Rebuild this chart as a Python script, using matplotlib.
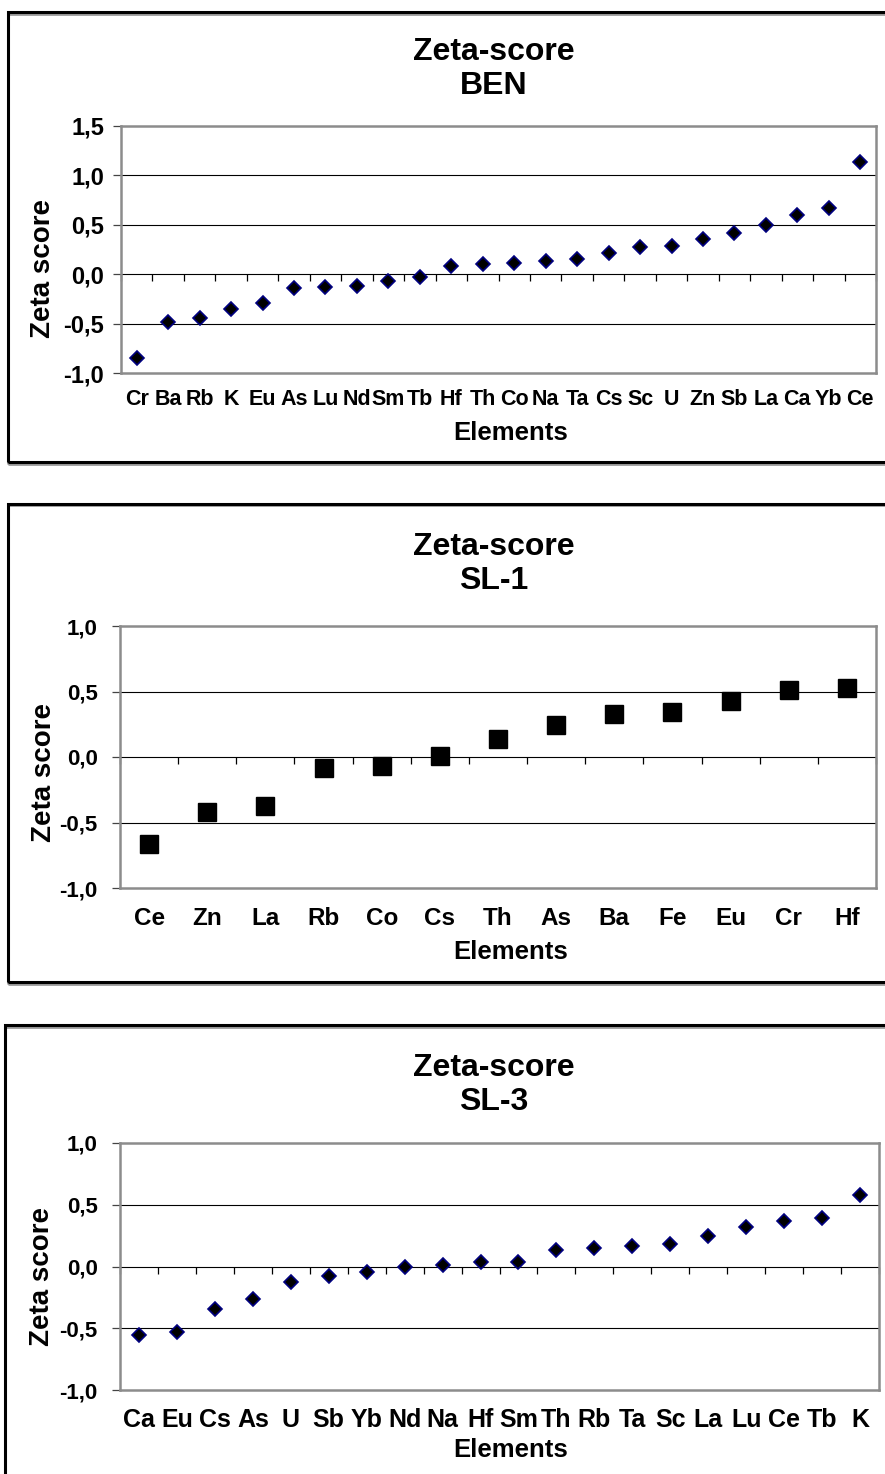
import matplotlib
matplotlib.use("Agg")
import matplotlib.pyplot as plt
from matplotlib.patches import Rectangle
from matplotlib.ticker import FixedLocator, FuncFormatter

plt.rcParams.update({"font.family": ["Liberation Sans", "DejaVu Sans"],
                     "font.weight": "bold"})

# ── datos ───────────────────────────────────────────────────────────────────
ben_elem = ["Cr", "Ba", "Rb", "K", "Eu", "As", "Lu", "Nd", "Sm", "Tb", "Hf", "Th",
            "Co", "Na", "Ta", "Cs", "Sc", "U", "Zn", "Sb", "La", "Ca", "Yb", "Ce"]
ben_zeta = [-0.845, -0.48, -0.44, -0.35, -0.29, -0.14, -0.13, -0.12, -0.064, -0.03,
            0.084, 0.108, 0.114, 0.13, 0.155, 0.21, 0.28, 0.29, 0.357, 0.418,
            0.495, 0.60, 0.673, 1.14]

sl1_elem = ["Ce", "Zn", "La", "Rb", "Co", "Cs", "Th", "As", "Ba", "Fe", "Eu", "Cr", "Hf"]
sl1_zeta = [-0.667, -0.42, -0.377, -0.087, -0.071, 0.005, 0.135, 0.242, 0.326,
            0.341, 0.427, 0.509, 0.524]

sl3_elem = ["Ca", "Eu", "Cs", "As", "U", "Sb", "Yb", "Nd", "Na", "Hf", "Sm", "Th",
            "Rb", "Ta", "Sc", "La", "Lu", "Ce", "Tb", "K"]
sl3_zeta = [-0.551, -0.527, -0.346, -0.265, -0.124, -0.078, -0.043, 0.0, 0.0135,
            0.04, 0.04, 0.135, 0.151, 0.17, 0.186, 0.249, 0.319, 0.368, 0.395, 0.581]

W, H = 885, 1474
fig = plt.figure(figsize=(W / 100, H / 100), dpi=100)


def fx(px):
    return px / W


def fy(py):
    return 1 - py / H


def comma(v, _):
    return f"{v:.1f}".replace(".", ",")


def panel(elems, vals, sample, box, area, ylim, title_y, ylab_xy, elem_y,
          marker, ms, ytick_fs, ytick_pad, xtick_fs, xtick_pad):
    # marco exterior
    x0, y0, x1, y1 = box
    fig.patches.append(Rectangle((fx(x0), fy(y1) - 1.5 / H), fx(x1 - x0), (y1 - y0) / H,
                                 transform=fig.transFigure, fill=False,
                                 edgecolor="#9a9a9a", lw=2.0, zorder=0))
    fig.patches.append(Rectangle((fx(x0), fy(y1)), fx(x1 - x0), (y1 - y0) / H,
                                 transform=fig.transFigure, fill=False,
                                 edgecolor="black", lw=2.2, zorder=1))

    l, t, r, b = area
    ax = fig.add_axes([fx(l), fy(b), fx(r - l), (b - t) / H])
    n = len(elems)
    xs = list(range(n))
    ax.set_xlim(-0.5, n - 0.5)
    ax.set_ylim(*ylim)

    ticks = [ylim[0] + 0.5 * i for i in range(int(round((ylim[1] - ylim[0]) / 0.5)) + 1)]
    ax.yaxis.set_major_locator(FixedLocator(ticks))
    ax.yaxis.set_major_formatter(FuncFormatter(comma))
    for v in ticks[1:-1]:
        ax.axhline(v, color="black", lw=0.8, zorder=1)

    # eje x en cero con marcas entre categorías
    bounds = [i - 0.5 for i in range(n + 1)]
    ax.plot(bounds, [0] * len(bounds), ls="none", marker=3, ms=5, mew=0.9,
            color="black", clip_on=False, zorder=2)

    if marker == "s":
        ax.plot(xs, vals, ls="none", marker="s", ms=ms, mfc="black", mec="black",
                zorder=3, clip_on=False)
    else:
        ax.plot(xs, vals, ls="none", marker="D", ms=ms, mfc="black", mec="#000080",
                mew=1.2, zorder=3, clip_on=False)

    ax.set_xticks(xs)
    ax.set_xticklabels(elems)
    ax.tick_params(axis="x", length=0, labelsize=xtick_fs, pad=xtick_pad)
    ax.tick_params(axis="y", length=5.5, width=0.9, color="#444444",
                   labelsize=ytick_fs, pad=ytick_pad)
    for s in ax.spines.values():
        s.set_color("#8c8c8c")
        s.set_linewidth(1.8)

    fig.text(fx(494), fy(title_y), f"Zeta-score\n{sample}", ha="center", va="center",
             fontsize=23, fontweight="bold", linespacing=1.2)
    fig.text(fx(ylab_xy[0]), fy(ylab_xy[1]), "Zeta score", rotation=90,
             ha="center", va="center", fontsize=20, fontweight="bold")
    fig.text(fx(511), fy(elem_y), "Elements", ha="center", va="center",
             fontsize=18.5, fontweight="bold")
    return ax


panel(ben_elem, ben_zeta, "BEN", (8, 12, 905, 462), (121, 126, 876, 373), (-1.0, 1.5),
      69, (43, 268), 433, "D", 7.3, 17, 6.8, 15.5, 11.4)
panel(sl1_elem, sl1_zeta, "SL-1", (8, 504, 905, 982), (120, 626, 876, 888), (-1.0, 1.0),
      564, (44, 773), 952, "s", 13, 16, 10.5, 17.5, 13.4)
panel(sl3_elem, sl3_zeta, "SL-3", (5, 1025, 905, 1500), (120, 1143, 879, 1390), (-1.0, 1.0),
      1085, (42, 1277), 1450, "D", 7.3, 16, 10.5, 18, 13.0)

fig.savefig("out.png", dpi=100)
